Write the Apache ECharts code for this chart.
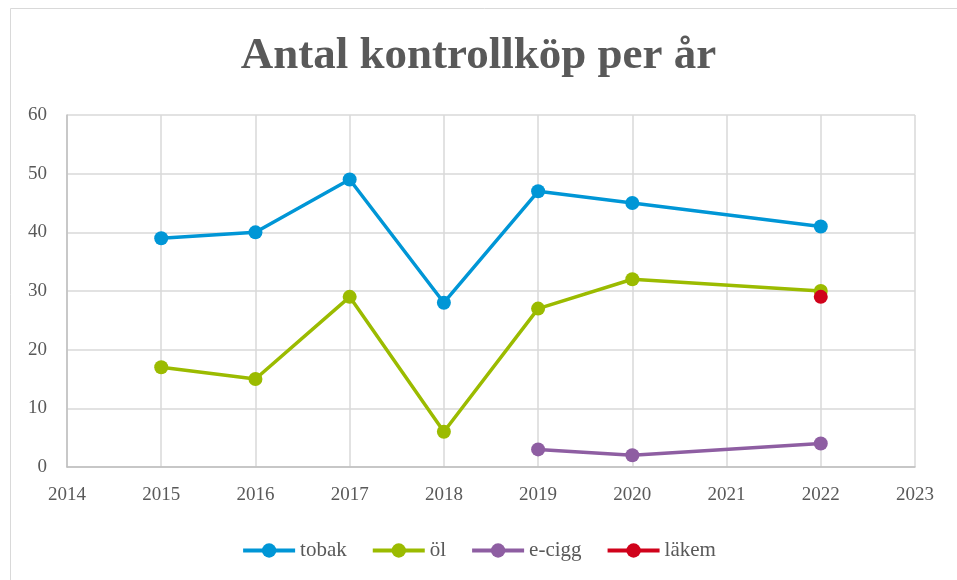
<!DOCTYPE html>
<html><head><meta charset="utf-8">
<script src="https://cdn.jsdelivr.net/npm/echarts@6/dist/echarts.min.js"></script>
<style>html,body{margin:0;padding:0;background:#fff}#c{width:957px;height:580px}</style>
</head><body><div id="c"></div>
<script>
const years = [2015, 2016, 2017, 2018, 2019, 2020, 2022];
const tobak = [39, 40, 49, 28, 47, 45, 41];
const ol = [17, 15, 29, 6, 27, 32, 30];
const eciggYears = [2019, 2020, 2022];
const ecigg = [3, 2, 4];
const lakemYears = [2022];
const lakem = [29];
const seriesNames = ['tobak', 'öl', 'e-cigg', 'läkem'];
const colors = ['#0096D6', '#9BBB00', '#8E5EA2', '#D0021B'];

const zip = (xs, ys) => xs.map((x, i) => [x, ys[i]]);
const font = '"Liberation Serif", "DejaVu Serif", serif';
const chart = echarts.init(document.getElementById('c'));
const mk = (name, data, color) => ({
  name, type: 'line', data, symbol: 'circle', symbolSize: 14,
  lineStyle: { width: 3.5, color }, itemStyle: { color }, color, z: 3
});
chart.setOption({
  animation: false,
  graphic: [{ type: 'rect', shape: { x: 10.5, y: 8.5, width: 960, height: 580 }, style: { fill: 'none', stroke: '#d9d9d9', lineWidth: 1 } }],
  title: { text: 'Antal kontrollköp per år', left: 'center', top: 29,
    textStyle: { fontFamily: font, fontSize: 45, fontWeight: 'bold', color: '#595959' } },
  grid: { left: 67, right: 42, top: 115, bottom: 113 },
  legend: { top: 535, left: 'center', itemGap: 24, itemWidth: 52, itemHeight: 18,
    lineStyle: { width: 4 },
    textStyle: { fontFamily: font, fontSize: 21, color: '#595959' },
    data: seriesNames },
  xAxis: { type: 'value', min: 2014, max: 2023, interval: 1,
    axisLine: { lineStyle: { color: '#bfbfbf', width: 1.5 } }, axisTick: { show: false },
    axisLabel: { fontFamily: font, fontSize: 19, color: '#595959', margin: 19, formatter: v => String(v) },
    splitLine: { show: true, lineStyle: { color: '#d9d9d9', width: 1.5 } } },
  yAxis: { type: 'value', min: 0, max: 60, interval: 10,
    axisLine: { show: true, lineStyle: { color: '#bfbfbf', width: 1.5 } }, axisTick: { show: false },
    axisLabel: { fontFamily: font, fontSize: 19, color: '#595959', margin: 20 },
    splitLine: { show: true, lineStyle: { color: '#d9d9d9', width: 1.5 } } },
  series: [
    mk(seriesNames[0], zip(years, tobak), colors[0]),
    mk(seriesNames[1], zip(years, ol), colors[1]),
    mk(seriesNames[2], zip(eciggYears, ecigg), colors[2]),
    mk(seriesNames[3], zip(lakemYears, lakem), colors[3])
  ]
});
</script></body></html>
